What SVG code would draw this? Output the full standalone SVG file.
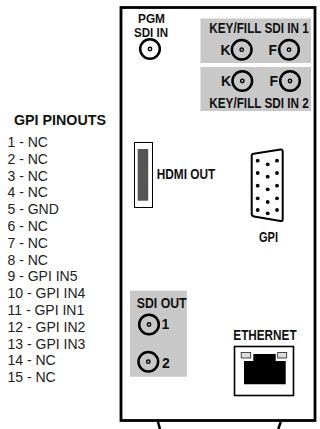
<svg xmlns="http://www.w3.org/2000/svg" width="320" height="429" viewBox="0 0 320 429">
<style>
.l{font-family:"Liberation Sans",Arial,sans-serif;font-size:14px;fill:#222}
.h{font-family:"Liberation Sans",Arial,sans-serif;font-size:14px;font-weight:bold;fill:#111}
.s{font-family:"Liberation Sans",Arial,sans-serif;font-size:13px;font-weight:bold;fill:#111}
.p{fill:#c8c8c8}
.c{fill:none;stroke:#000;stroke-width:2.5}
.d{fill:none;stroke:#000;stroke-width:1.4}
</style>
<defs>
<g id="bnc"><circle class="c" r="9.8"/><circle class="d" r="1.7"/></g>
</defs>
<rect width="320" height="429" fill="#fff"/>
<g id="pinouts">
<text class="h" x="14" y="124.5" textLength="92" lengthAdjust="spacingAndGlyphs">GPI PINOUTS</text>
<text class="l" x="7.5" y="147">1 - NC</text>
<text class="l" x="7.5" y="163.8">2 - NC</text>
<text class="l" x="7.5" y="180.6">3 - NC</text>
<text class="l" x="7.5" y="197.4">4 - NC</text>
<text class="l" x="7.5" y="214.2">5 - GND</text>
<text class="l" x="7.5" y="231">6 - NC</text>
<text class="l" x="7.5" y="247.8">7 - NC</text>
<text class="l" x="7.5" y="264.6">8 - NC</text>
<text class="l" x="7.5" y="281.4">9 - GPI IN5</text>
<text class="l" x="7.5" y="298.2">10 - GPI IN4</text>
<text class="l" x="7.5" y="315">11 - GPI IN1</text>
<text class="l" x="7.5" y="331.8">12 - GPI IN2</text>
<text class="l" x="7.5" y="348.6">13 - GPI IN3</text>
<text class="l" x="7.5" y="365.4">14 - NC</text>
<text class="l" x="7.5" y="382">15 - NC</text>
</g>
<g id="panel">
<rect x="121" y="7.5" width="194" height="413" fill="none" stroke="#000" stroke-width="2.8"/>
<path d="M158 422L160 429M280.7 422L278.3 429" fill="none" stroke="#000" stroke-width="2.5"/>
</g>
<g id="pgm">
<text class="s" transform="translate(138 22.5) scale(.91 1)">PGM</text>
<text class="s" transform="translate(134 37) scale(.89 1)">SDI IN</text>
<use href="#bnc" x="150" y="49"/>
</g>
<g id="key1">
<rect class="p" x="200.5" y="18.5" width="110.5" height="44.5"/>
<text class="h" transform="translate(209.3 33) scale(.84 1)">KEY/FILL SDI IN 1</text>
<text class="h" x="220.5" y="54.5">K</text>
<use href="#bnc" x="241.7" y="49.7"/>
<text class="h" x="268.5" y="54.5">F</text>
<use href="#bnc" x="289" y="49.7"/>
</g>
<g id="key2">
<rect class="p" x="200.5" y="67" width="110.5" height="44"/>
<text class="h" x="221" y="86">K</text>
<use href="#bnc" x="242.3" y="81"/>
<text class="h" x="269.5" y="86">F</text>
<use href="#bnc" x="290" y="81"/>
<text class="h" transform="translate(209.3 108) scale(.84 1)">KEY/FILL SDI IN 2</text>
</g>
<g id="hdmi">
<rect x="134.5" y="142.5" width="18" height="65" fill="#fff" stroke="#000" stroke-width="1"/>
<rect x="137.7" y="149" width="10.5" height="51.7" fill="#555"/>
<text class="h" transform="translate(156.7 179) scale(.845 1)">HDMI OUT</text>
</g>
<g id="gpi">
<path d="M253.5 153.8L280.5 149.6Q282.7 149.4 282.7 151.5V219Q282.7 221.4 280.5 221L254 216.4Q251.7 216 251.7 213.5V156Q251.7 154 253.5 153.8Z" fill="#fff" stroke="#000" stroke-width="2"/>
<g fill="#000">
<circle cx="257.7" cy="160.7" r="1.9"/><circle cx="267.7" cy="164.3" r="1.9"/><circle cx="277" cy="160.7" r="1.9"/>
<circle cx="257.7" cy="173" r="1.9"/><circle cx="267.7" cy="176.7" r="1.9"/><circle cx="277" cy="173" r="1.9"/>
<circle cx="257.7" cy="185.7" r="1.9"/><circle cx="267.7" cy="189.3" r="1.9"/><circle cx="277" cy="185.7" r="1.9"/>
<circle cx="257.7" cy="198.3" r="1.9"/><circle cx="267.7" cy="202" r="1.9"/><circle cx="277" cy="198.3" r="1.9"/>
<circle cx="257.7" cy="210" r="1.9"/><circle cx="267.7" cy="213.3" r="1.9"/><circle cx="277" cy="210" r="1.9"/>
</g>
<text class="h" transform="translate(259 242) scale(.79 1)">GPI</text>
</g>
<g id="sdi-out">
<rect class="p" x="130" y="290.7" width="57" height="86"/>
<text class="h" transform="translate(136.7 308.3) scale(.88 1)">SDI OUT</text>
<use href="#bnc" x="149" y="324.5"/>
<text class="h" x="161.5" y="329">1</text>
<use href="#bnc" x="148.3" y="361.7"/>
<text class="h" x="162" y="367.7">2</text>
</g>
<g id="ethernet">
<text class="h" transform="translate(233.3 340) scale(.84 1)">ETHERNET</text>
<rect x="234.5" y="346.5" width="59" height="49" fill="#fff" stroke="#000" stroke-width="1.6"/>
<path d="M244 361H253.3V354H275.7V361H285.7V384.3H244Z" fill="#000"/>
<rect x="241.2" y="352.5" width="9.5" height="5.5" fill="#ddd" stroke="#222" stroke-width="0.8"/>
<rect x="277.7" y="352.5" width="9" height="5.5" fill="#ddd" stroke="#222" stroke-width="0.8"/>
</g>
</svg>
